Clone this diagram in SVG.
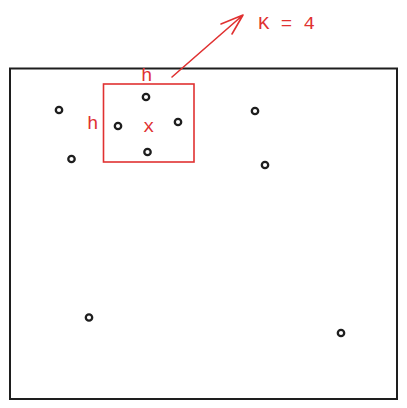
<svg xmlns="http://www.w3.org/2000/svg" width="407" height="408" viewBox="0 0 407 408">
<style>
.pt{fill:none;stroke:#1e1e1e;stroke-width:2.3}
.red{fill:none;stroke:#e03131;stroke-width:1.6;stroke-linecap:round}
.lbl{font-family:"Liberation Mono",monospace;fill:#e03131;font-size:19px}
</style>
<rect width="407" height="408" fill="#fff"/>
<g id="frame"><rect x="10" y="68.5" width="387" height="330.5" fill="none" stroke="#1e1e1e" stroke-width="2"/></g>
<g id="window"><rect x="103.5" y="84" width="90.5" height="78" class="red"/></g>
<g id="points">
<circle class="pt" cx="59" cy="110" r="3.2"/>
<circle class="pt" cx="71.5" cy="159" r="3.2"/>
<circle class="pt" cx="146" cy="97" r="3.2"/>
<circle class="pt" cx="118" cy="126" r="3.2"/>
<circle class="pt" cx="178" cy="122" r="3.2"/>
<circle class="pt" cx="147.5" cy="152" r="3.2"/>
<circle class="pt" cx="255" cy="111" r="3.2"/>
<circle class="pt" cx="265" cy="165" r="3.2"/>
<circle class="pt" cx="89" cy="317.5" r="3.2"/>
<circle class="pt" cx="341" cy="333" r="3.2"/>
</g>
<g id="connectors">
<path class="red" d="M172 77 L243 15 M243 15 L221 24 M243 15 L232 34"/>
</g>
<g id="labels">
<text class="lbl" x="258" y="29">K = 4</text>
<text class="lbl" x="141" y="81">h</text>
<text class="lbl" x="87" y="129">h</text>
<text class="lbl" x="143" y="132">x</text>
</g>
</svg>
